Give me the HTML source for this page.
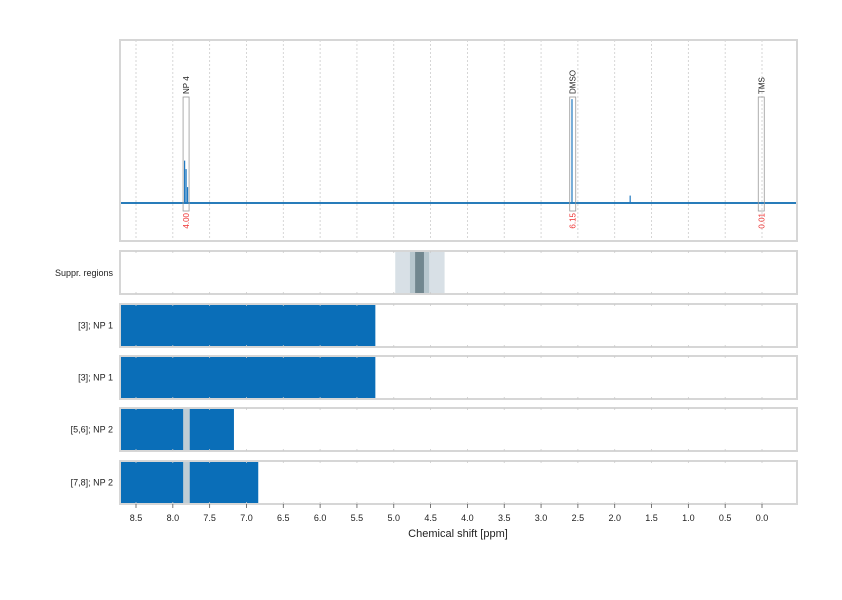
<!DOCTYPE html>
<html><head><meta charset="utf-8"><style>
body{margin:0;background:#fff;font-family:"Liberation Sans",sans-serif}
</style></head><body>
<svg width="842" height="595" viewBox="0 0 842 595" xmlns="http://www.w3.org/2000/svg" font-family="Liberation Sans, sans-serif">
<g id="grid"></g>
<g id="marks"></g>
<g id="panels"></g>
<g id="axis"></g>
<text x="458" y="537" font-size="11" text-anchor="middle" fill="#222">Chemical shift [ppm]</text>
</svg>
<script>
const ticks=[8.5,8.0,7.5,7.0,6.5,6.0,5.5,5.0,4.5,4.0,3.5,3.0,2.5,2.0,1.5,1.0,0.5,0.0];
const peakShifts=[7.84,7.82,7.80,2.58,1.79];
const peakHeights=[0.40,0.32,0.15,0.98,0.07];
const annLabels=["NP 4","DMSO","TMS"];
const annShifts=[7.82,2.57,0.01];
const annIntegrals=["4.00","6.15","0.01"];
const rowLabels=["[3]; NP 1","[3]; NP 1","[5,6]; NP 2","[7,8]; NP 2"];
const rowStart=[8.72,8.72,8.72,8.72];
const rowEnd=[5.25,5.25,7.17,6.84];
const gapStart=[null,null,7.86,7.86];
const gapEnd=[null,null,7.77,7.77];
const supprOuter=[4.98,4.31];
const supprInner=[4.78,4.52];
const supprCore=[4.71,4.59];

const NS="http://www.w3.org/2000/svg";
const X=p=>762-(626/8.5)*p;
const L=120,R=797;
function el(parent,tag,attrs,text){const e=document.createElementNS(NS,tag);for(const k in attrs)e.setAttribute(k,attrs[k]);if(text!=null)e.textContent=text;document.getElementById(parent).appendChild(e);return e;}
const panels=[[40,241],[251,294],[304,347],[356,399],[408,451],[461,504]];
ticks.forEach(t=>{const g=el('grid','line',{x1:X(t),x2:X(t),y1:40,y2:241,stroke:'#ccc','stroke-dasharray':'2,2','stroke-width':0.8});
  
  });
panels.forEach((p,i)=>{
  const r=el('panels','rect',{x:L,y:p[0],width:R-L,height:p[1]-p[0],fill:'none',stroke:'#d6d6d6','stroke-width':2});
  
  
  if(i>0) ticks.forEach(t=>{
    [[p[0],p[0]+2],[p[1]-2,p[1]]].forEach(y=>{const m=el('panels','line',{x1:X(t),x2:X(t),y1:y[0],y2:y[1],stroke:'#ccc','stroke-width':0.8});
    
    });
  });
});
const base=203, specTop=97, H=base-specTop;
const bl=el('marks','line',{x1:L,x2:R,y1:base,y2:base,stroke:'#0a6ab0','stroke-width':1.8});


peakShifts.forEach((s,i)=>{const l=el('marks','line',{x1:X(s),x2:X(s),y1:base,y2:base-H*peakHeights[i],stroke:'#1f78c0','stroke-width':1.2});

});
annShifts.forEach((s,i)=>{
  const b=el('marks','rect',{x:X(s)-3,y:97,width:6,height:114,fill:'none',stroke:'#999','stroke-width':0.8});
  
  
  const t=el('marks','text',{x:0,y:0,'font-size':8,fill:'#222',transform:`translate(${X(s)+3},94) rotate(-90)`},annLabels[i]);
  
  
  const v=el('marks','text',{x:0,y:0,'font-size':8,fill:'#e33','text-anchor':'end',transform:`translate(${X(s)+3},213) rotate(-90)`},annIntegrals[i]);
  
  
});
[[supprOuter,'#d8e0e6','suppr-region-outer'],[supprInner,'#b7c7ce','suppr-region-inner'],[supprCore,'#71878f','suppr-region-core']].forEach(([a,c,n])=>{
  const r=el('marks','rect',{x:X(a[0]),y:252,width:X(a[1])-X(a[0]),height:41,fill:c});
  
  
});
const sl=el('marks','text',{x:113,y:276,'font-size':9,'text-anchor':'end',fill:'#222'},'Suppr. regions');


rowLabels.forEach((lab,i)=>{
  const p=panels[i+2];
  const b=el('marks','rect',{x:X(rowStart[i]),y:p[0]+1,width:X(rowEnd[i])-X(rowStart[i]),height:p[1]-p[0]-2,fill:'#0a6eb8'});
  
  
  if(gapStart[i]!=null){const g=el('marks','rect',{x:X(gapStart[i]),y:p[0]+1,width:X(gapEnd[i])-X(gapStart[i]),height:p[1]-p[0]-2,fill:'#bfcdd5'});
  
  }
  const t=el('marks','text',{x:113,y:(p[0]+p[1])/2+3,'font-size':9,'text-anchor':'end',fill:'#222'},lab);
  
  
});
ticks.forEach(t=>{
  const l=el('axis','line',{x1:X(t),x2:X(t),y1:504,y2:508,stroke:'#555','stroke-width':0.8});
  
  
  const tx=el('axis','text',{x:X(t),y:521,'font-size':9,'text-anchor':'middle',fill:'#222'},t.toFixed(1));
  
  
});
</script>
</body></html>
